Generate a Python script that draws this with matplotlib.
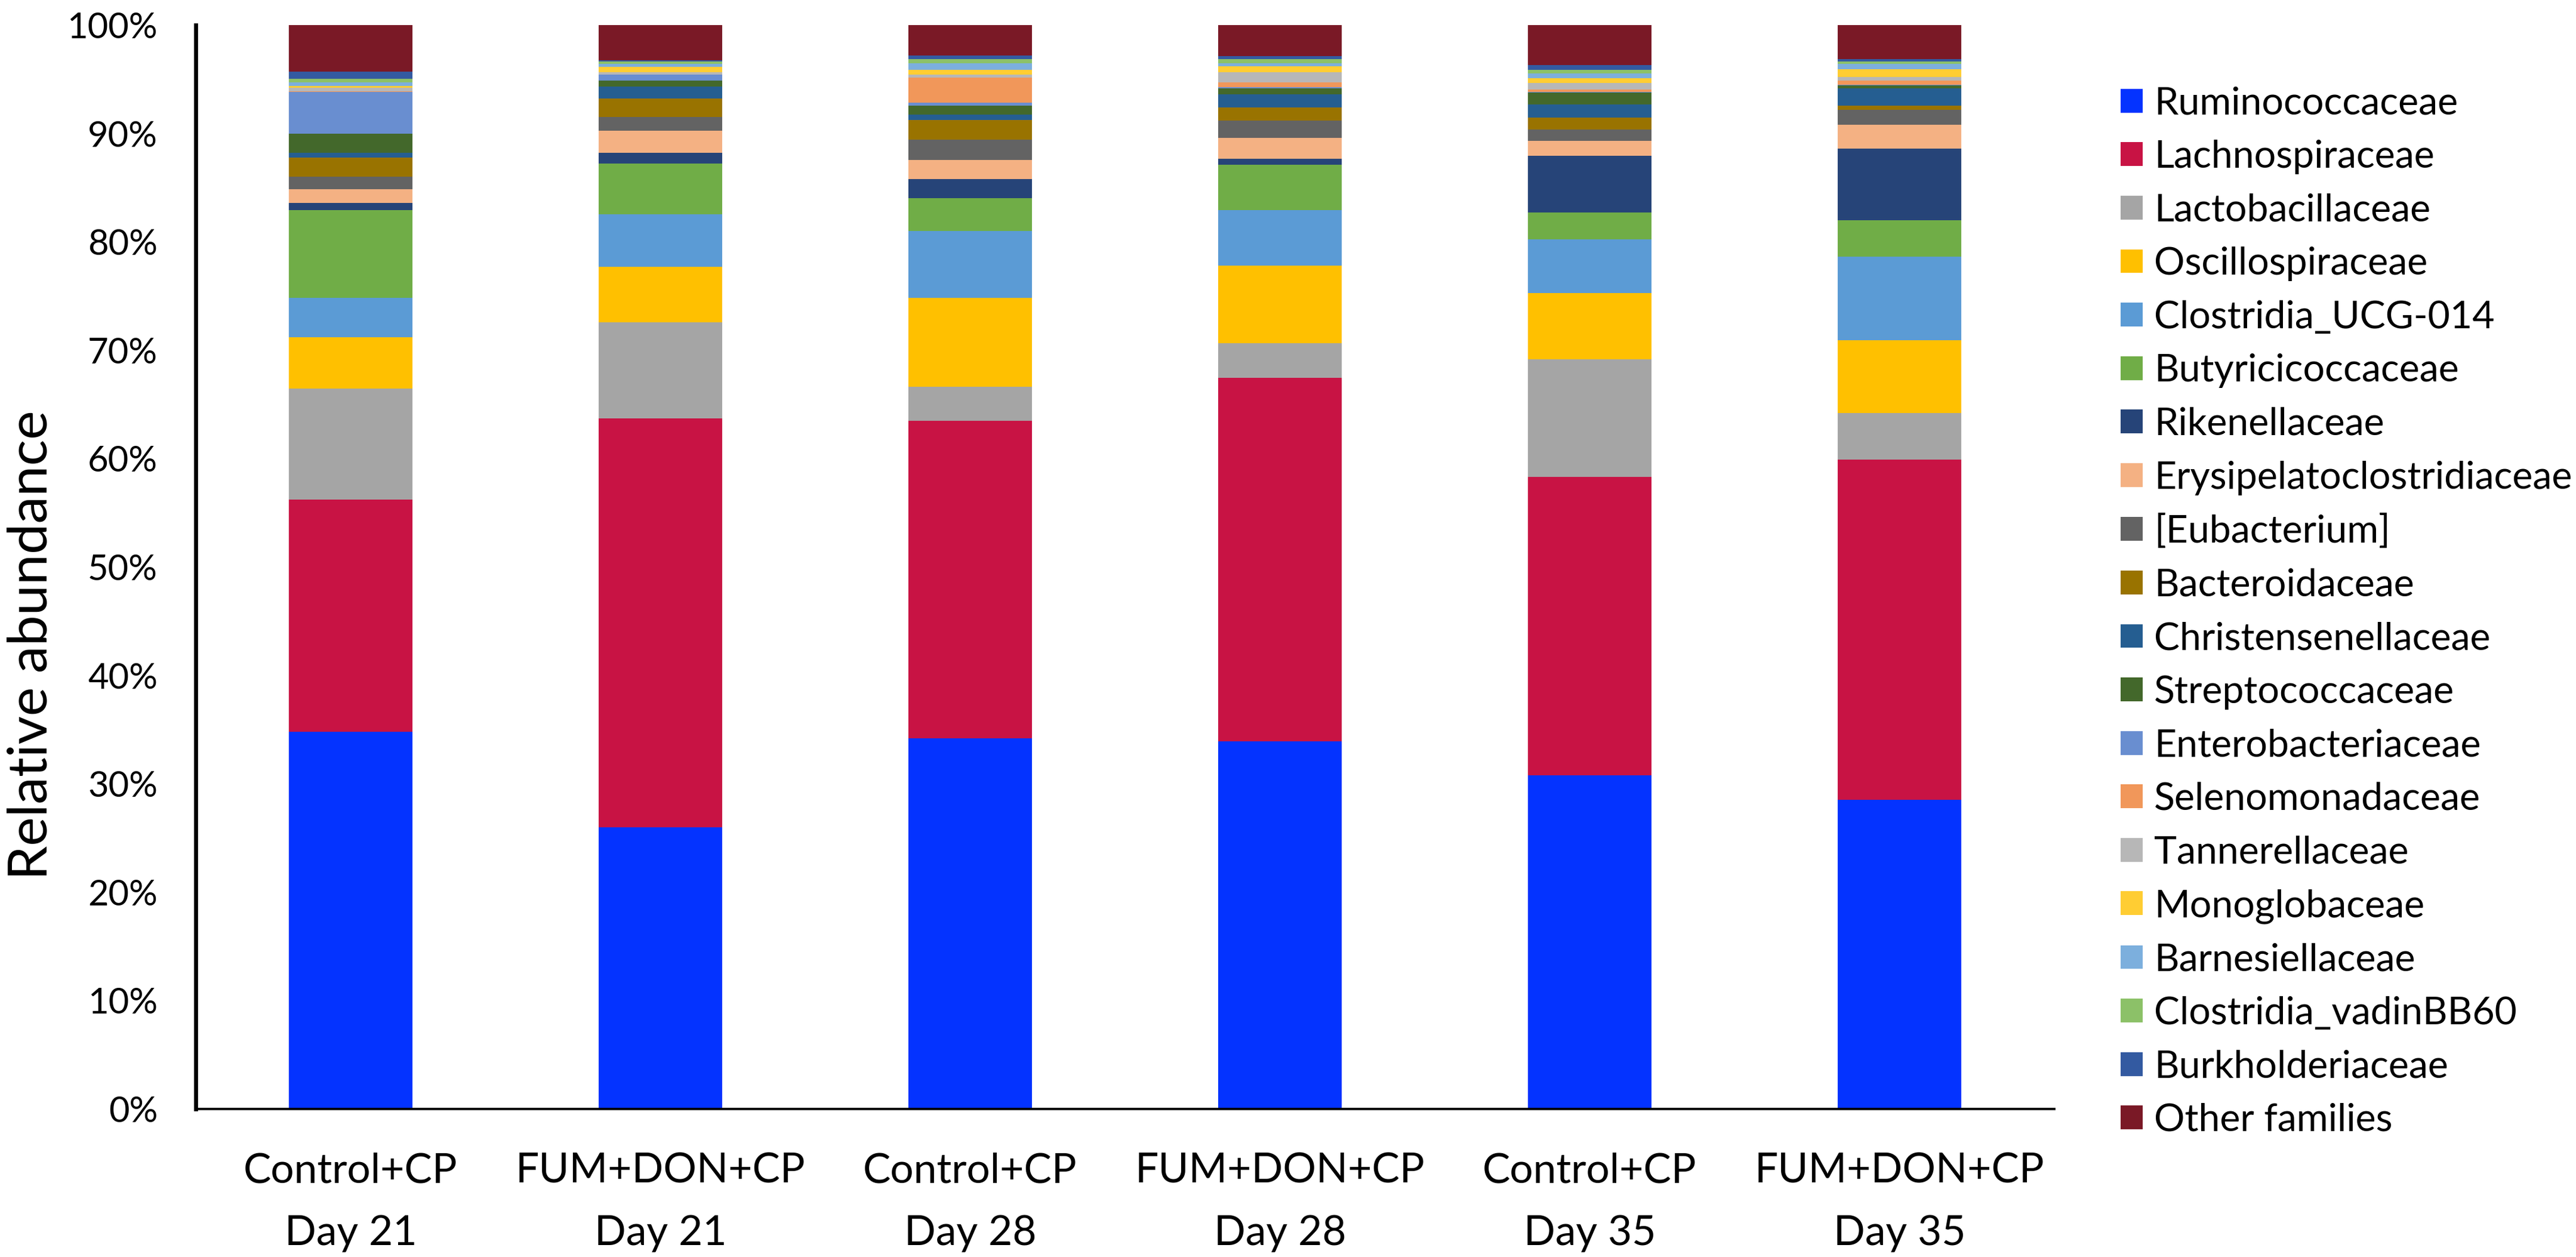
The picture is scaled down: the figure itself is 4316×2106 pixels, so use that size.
import matplotlib
matplotlib.use("Agg")
import matplotlib.pyplot as plt
import numpy as np

plt.rcParams['font.family'] = ['Lato', 'DejaVu Sans']

groups = ["Control+CP\nDay 21", "FUM+DON+CP\nDay 21", "Control+CP\nDay 28",
          "FUM+DON+CP\nDay 28", "Control+CP\nDay 35", "FUM+DON+CP\nDay 35"]

families = ["Ruminococcaceae", "Lachnospiraceae", "Lactobacillaceae", "Oscillospiraceae",
            "Clostridia_UCG-014", "Butyricicoccaceae", "Rikenellaceae",
            "Erysipelatoclostridiaceae", "[Eubacterium]", "Bacteroidaceae",
            "Christensenellaceae", "Streptococcaceae", "Enterobacteriaceae",
            "Selenomonadaceae", "Tannerellaceae", "Monoglobaceae", "Barnesiellaceae",
            "Clostridia_vadinBB60", "Burkholderiaceae", "Other families"]

colors = ["#0433FF", "#C81344", "#A5A5A5", "#FFC000", "#5B9BD5", "#70AD47", "#264478",
          "#F4B183", "#636363", "#997300", "#255E91", "#43682B", "#698ED0", "#F1975A",
          "#B7B7B7", "#FFCD33", "#7CAFDD", "#8CC168", "#335AA1", "#7A1926"]

ruminococcaceae = [34.8, 26.0, 34.2, 33.9, 30.8, 28.5]
lachnospiraceae = [21.4, 37.7, 29.3, 33.54, 27.5, 31.4]
lactobacillaceae = [10.26, 8.86, 3.11, 3.22, 10.86, 4.3]
oscillospiraceae = [4.74, 5.15, 8.23, 7.15, 6.1, 6.71]
clostridia_ucg014 = [3.64, 4.85, 6.19, 5.14, 4.99, 7.71]
butyricicoccaceae = [8.11, 4.69, 3.0, 4.18, 2.45, 3.39]
rikenellaceae = [0.66, 0.98, 1.79, 0.54, 5.26, 6.59]
erysipelatoclostridiaceae = [1.23, 2.02, 1.72, 1.91, 1.35, 2.19]
eubacterium = [1.2, 1.3, 1.92, 1.6, 1.06, 1.37]
bacteroidaceae = [1.75, 1.69, 1.77, 1.23, 1.1, 0.42]
christensenellaceae = [0.44, 1.11, 0.49, 1.23, 1.23, 1.6]
streptococcaceae = [1.77, 0.56, 0.86, 0.54, 1.11, 0.24]
enterobacteriaceae = [3.86, 0.5, 0.25, 0.12, 0.05, 0.1]
selenomonadaceae = [0.05, 0.05, 2.31, 0.44, 0.19, 0.39]
tannerellaceae = [0.29, 0.19, 0.27, 0.91, 0.62, 0.3]
monoglobaceae = [0.2, 0.49, 0.44, 0.57, 0.44, 0.74]
barnesiellaceae = [0.32, 0.3, 0.64, 0.27, 0.42, 0.49]
clostridia_vadinbb60 = [0.32, 0.19, 0.39, 0.39, 0.37, 0.19]
burkholderiaceae = [0.66, 0.13, 0.32, 0.29, 0.44, 0.25]
other_families = [4.3, 3.24, 2.8, 2.83, 3.66, 3.12]

series = [ruminococcaceae, lachnospiraceae, lactobacillaceae, oscillospiraceae,
          clostridia_ucg014, butyricicoccaceae, rikenellaceae, erysipelatoclostridiaceae,
          eubacterium, bacteroidaceae, christensenellaceae, streptococcaceae,
          enterobacteriaceae, selenomonadaceae, tannerellaceae, monoglobaceae,
          barnesiellaceae, clostridia_vadinbb60, burkholderiaceae, other_families]

yticks = [0, 10, 20, 30, 40, 50, 60, 70, 80, 90, 100]

fig = plt.figure(figsize=(21.58, 10.53), dpi=200)
ax = fig.add_axes([0.076, 0.1178, 0.7215, 0.8622])

x = np.arange(len(groups))
bottom = np.zeros(len(groups))
handles = []
for name, vals, col in zip(families, series, colors):
    v = np.array(vals, dtype=float)
    b = ax.bar(x, v, width=0.4, bottom=bottom, color=col, label=name, linewidth=0)
    handles.append(b)
    bottom += v

ax.set_xlim(-0.5, 5.5)
ax.set_ylim(0, 100)
ax.set_yticks(yticks)
ax.set_yticklabels([f"{t}%" for t in yticks], fontsize=21.5)
ax.set_xticks(x)
ax.set_xticklabels(groups, fontsize=25, linespacing=1.82)
ax.tick_params(axis='y', length=0, pad=23)
ax.tick_params(axis='x', length=0, pad=26)

for s in ['top', 'right']:
    ax.spines[s].set_visible(False)
ax.spines['left'].set_linewidth(2.4)
ax.spines['bottom'].set_linewidth(1.4)
ax.spines['left'].set_color('black')
ax.spines['bottom'].set_color('black')

fig.text(0.0122, 0.4867, "Relative abundance", rotation=90, ha='center', va='center',
         fontsize=33)

leg = ax.legend(handles=handles, labels=families, loc='upper left',
                bbox_to_anchor=(0.8232, 0.9314), bbox_transform=fig.transFigure,
                frameon=False, fontsize=23.2, handlelength=0.575, handleheight=0.575,
                handletextpad=0.3, labelspacing=0.49, borderaxespad=0, borderpad=0)

fig.savefig("out.png", dpi=200)
